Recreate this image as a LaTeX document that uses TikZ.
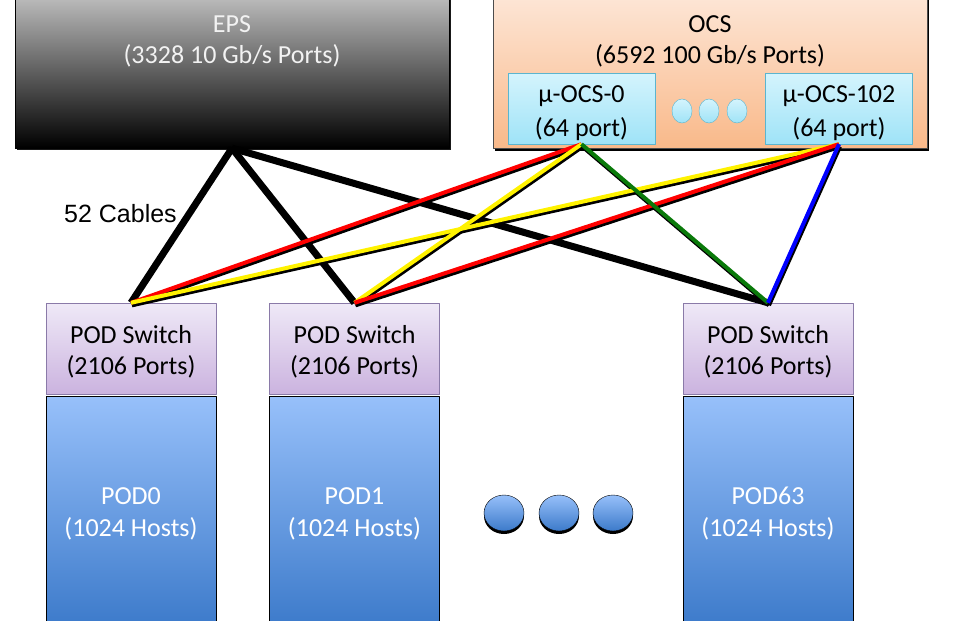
\documentclass[tikz,border=0pt]{standalone}
\usepackage{fontspec}
\setmainfont{Carlito}
\newfontfamily\cablefont{Liberation Sans}
\usetikzlibrary{shapes.geometric,shadows}

\definecolor{epstop}{RGB}{190,190,190}
\definecolor{ocstop}{RGB}{253,230,214}
\definecolor{ocsbot}{RGB}{249,185,138}
\definecolor{uocstop}{RGB}{212,244,253}
\definecolor{uocsbot}{RGB}{159,227,247}
\definecolor{uocsline}{RGB}{91,181,207}
\definecolor{swtop}{RGB}{239,233,247}
\definecolor{swbot}{RGB}{203,179,223}
\definecolor{swline}{RGB}{138,122,168}
\definecolor{podtop}{RGB}{151,192,250}
\definecolor{podbot}{RGB}{60,122,202}
\definecolor{linkgreen}{RGB}{10,122,10}
\definecolor{epstext}{RGB}{242,242,242}

\tikzset{
  boxfont/.style={font=\fontsize{26}{31}\selectfont, align=center},
  epsbox/.style={rectangle, draw=black, top color=epstop, bottom color=black,
    minimum width=434pt, minimum height=153pt, inner sep=0pt,
    drop shadow={shadow xshift=2pt, shadow yshift=-2pt, fill=black, opacity=.9}},
  ocsbox/.style={rectangle, draw=black!70, top color=ocstop, bottom color=ocsbot,
    minimum width=434pt, minimum height=153pt, inner sep=0pt,
    drop shadow={shadow xshift=2pt, shadow yshift=-3pt, fill=black, opacity=1}},
  uocsbox/.style={rectangle, draw=uocsline, top color=uocstop, bottom color=uocsbot,
    minimum width=147pt, minimum height=71pt, inner sep=0pt},
  smalldot/.style={ellipse, draw=uocsline, top color=uocstop, bottom color=uocsbot,
    minimum width=20pt, minimum height=24pt, inner sep=0pt},
  swbox/.style={rectangle, draw=swline, top color=swtop, bottom color=swbot,
    minimum width=170pt, minimum height=91pt, inner sep=0pt},
  podbox/.style={rectangle, draw=black, top color=podtop, bottom color=podbot,
    minimum width=170pt, minimum height=231pt, inner sep=0pt},
  podtext/.style={font=\fontsize{26}{32}\selectfont, align=center, text=white},
  bigdot/.style={ellipse, draw=black, top color=podtop, bottom color=podbot,
    minimum width=40pt, minimum height=36pt, inner sep=0pt,
    drop shadow={shadow xshift=0pt, shadow yshift=-3pt, fill=black, opacity=1}},
  epscable/.style={draw=black, line width=7pt},
  ocscable/.style={line width=4pt},
  cableshadow/.style={draw=black, line width=4pt},
}

\begin{document}
\begin{tikzpicture}[x=1pt,y=-1pt,line join=bevel]
\useasboundingbox (0,0) rectangle (970,621);
%%
\node (eps) at (232,71.5) [epsbox] {};
\node (eps_text) at (232,41) [boxfont, text=epstext] {EPS\\(3328 10 Gb/s Ports)};
\node (ocs) at (710,71.5) [ocsbox] {};
\node (ocs_text) at (710,41) [boxfont] {OCS\\(6592 100 Gb/s Ports)};
\node (ocs0) at (581.5,108.5) [uocsbox] {};
\node (ocs0_text) at (581.5,113) [boxfont, font=\fontsize{26}{34}\selectfont] {μ-OCS-0\\(64 port)};
\node (ocs102) at (839,108.5) [uocsbox] {};
\node (ocs102_text) at (839,113) [boxfont, font=\fontsize{26}{34}\selectfont] {μ-OCS-102\\(64 port)};
\node (dot_a) at (682,111) [smalldot] {};
\node (dot_b) at (709,111) [smalldot] {};
\node (dot_c) at (737,111) [smalldot] {};
%
\node (sw0) at (131,348.5) [swbox] {};
\node (sw1) at (354.5,348.5) [swbox] {};
\node (sw63) at (768,348.5) [swbox] {};
\node (sw0_text) at (131,352) [boxfont] {POD Switch\\(2106 Ports)};
\node (sw1_text) at (354.5,352) [boxfont] {POD Switch\\(2106 Ports)};
\node (sw63_text) at (768,352) [boxfont] {POD Switch\\(2106 Ports)};
\node (pod0) at (131,512) [podbox] {};
\node (pod1) at (354.5,512) [podbox] {};
\node (pod63) at (768,512) [podbox] {};
\node (pod0_text) at (131,514) [podtext] {POD0\\(1024 Hosts)};
\node (pod1_text) at (354.5,514) [podtext] {POD1\\(1024 Hosts)};
\node (pod63_text) at (768,514) [podtext] {POD63\\(1024 Hosts)};
\node (pod_a) at (504,513) [bigdot] {};
\node (pod_b) at (559,513) [bigdot] {};
\node (pod_c) at (613,513) [bigdot] {};
%
\node (cables) at (120.5,213.5) [font=\cablefont\fontsize{25}{30}\selectfont] {52 Cables};
%
\draw [epscable] (eps.south) -- (sw0.north);
\draw [epscable] (eps.south) -- (sw1.north);
\draw [epscable] (eps.south) -- (sw63.north);
\begin{scope}[transform canvas={xshift=1pt, yshift=-2.5pt}]
\draw [cableshadow] (sw0.north) -- (ocs0.south);
\draw [cableshadow] (sw0.north) -- (ocs102.south);
\draw [cableshadow] (sw1.north) -- (ocs0.south);
\draw [cableshadow] (sw1.north) -- (ocs102.south);
\draw [cableshadow] (sw63.north) -- (ocs0.south);
\draw [cableshadow] (sw63.north) -- (ocs102.south);
\end{scope}
\draw [ocscable,red] (sw0.north) -- (ocs0.south);
\draw [ocscable,yellow] (sw0.north) -- (ocs102.south);
\draw [ocscable,yellow] (sw1.north) -- (ocs0.south);
\draw [ocscable,red] (sw1.north) -- (ocs102.south);
\draw [ocscable,linkgreen] (sw63.north) -- (ocs0.south);
\draw [ocscable,blue] (sw63.north) -- (ocs102.south);
%
\end{tikzpicture}
\end{document}
